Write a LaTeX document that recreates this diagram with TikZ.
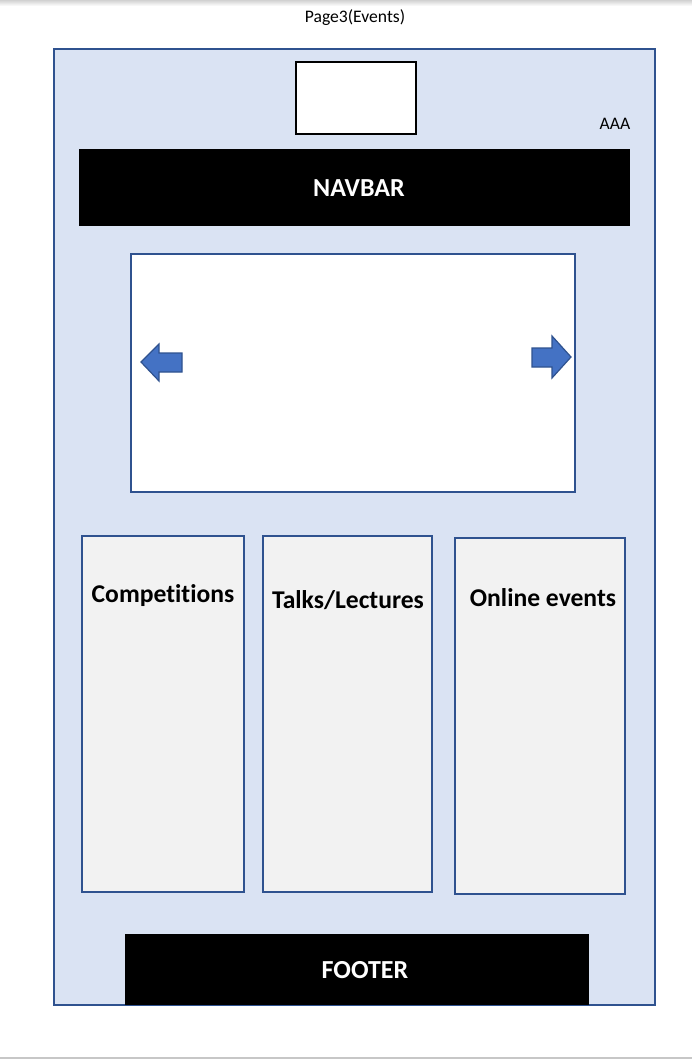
\documentclass[tikz,border=0pt]{standalone}
\usepackage{fontspec}
\setmainfont{Carlito}[Ligatures={NoCommon,NoRare}]
\definecolor{pageblue}{HTML}{DAE3F3}
\definecolor{edgeblue}{HTML}{2F528F}
\definecolor{arrowblue}{HTML}{4472C4}
\definecolor{cardgray}{HTML}{F2F2F2}
\tikzset{
  panel/.style={fill=cardgray, draw=edgeblue, line width=1.1pt},
  bar/.style={fill=black},
  bartext/.style={text=white, font=\fontsize{19.5}{23}\selectfont\bfseries},
  cardtext/.style={font=\fontsize{19.2}{23}\selectfont\bfseries},
  smalltext/.style={font=\fontsize{13.2}{16}\selectfont},
  slidearrow/.style={fill=arrowblue, draw=edgeblue, line width=0.9pt, line join=miter}
}
\begin{document}
\begin{tikzpicture}[x=0.75pt, y=-0.75pt]
    \useasboundingbox (0, 0) rectangle (692, 1060);
    \shade[top color=black!18, bottom color=white] (0, 0) rectangle (692, 6);
    \fill[black!22] (0, 1056.5) rectangle (692, 1059);
    \node[smalltext] (title) at (355, 18) {Page3(Events)};
    % page frame
    \draw[fill=pageblue, draw=edgeblue, line width=1.5pt] (54, 49) rectangle (655, 1005);
    \draw[fill=white, line width=1.1pt] (296, 62) rectangle (416, 134);
    \node[smalltext] (aaa) at (615, 124) {AAA};
    \fill[bar] (79, 149) rectangle (630, 226);
    \node[bartext] (navbar) at (359, 188) {NAVBAR};
    % slider
    \draw[fill=white, draw=edgeblue, line width=1.1pt] (131, 254) rectangle (575, 492);
    \draw[slidearrow] (141, 362) -- (159, 344) -- (159, 353) -- (182, 353) -- (182, 372) -- (159, 372) -- (159, 381) -- cycle;
    \draw[slidearrow] (571, 357) -- (552, 336) -- (552, 348) -- (532, 348) -- (532, 367) -- (552, 367) -- (552, 378) -- cycle;
    % event cards
    \draw[panel] (82, 536) rectangle (244, 892);
    \node[cardtext] (comp) at (163, 596) {Competitions};
    \draw[panel] (263, 536) rectangle (432, 892);
    \node[cardtext] (talks) at (348, 600) {Talks/Lectures};
    \draw[panel] (455, 538) rectangle (625, 894);
    \node[cardtext] (online) at (543, 598) {Online events};
    % footer
    \fill[bar] (125, 934) rectangle (589, 1005);
    \node[bartext] (footer) at (365, 970) {FOOTER};
  \end{tikzpicture}
\end{document}
